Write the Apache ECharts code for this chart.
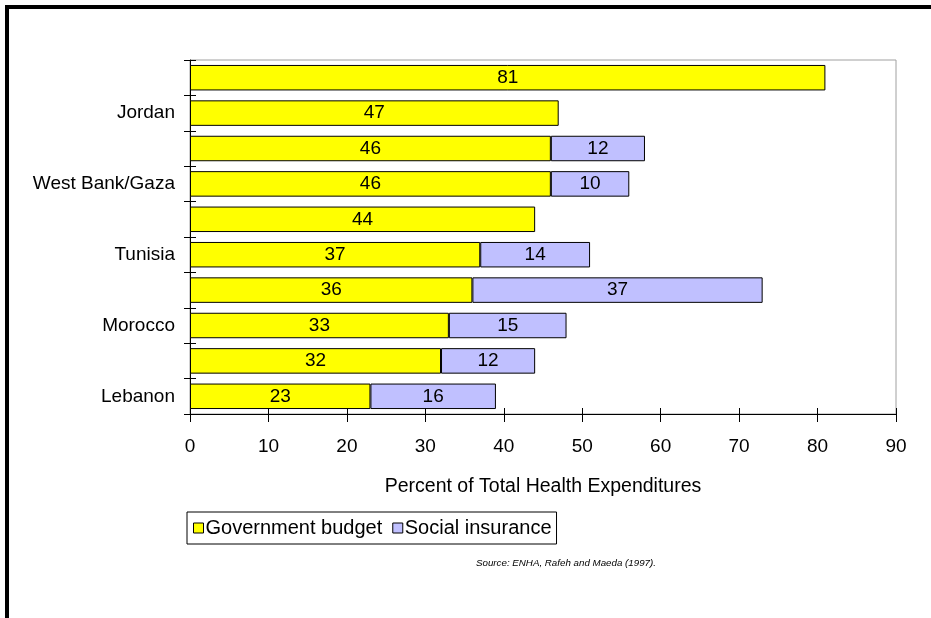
<!DOCTYPE html>
<html>
<head>
<meta charset="utf-8">
<script src="https://cdn.jsdelivr.net/npm/echarts@6/dist/echarts.min.js"></script>
<style>
  html, body { margin: 0; padding: 0; background: #fff; }
  #main { width: 931px; height: 618px; }
</style>
</head>
<body>
<div id="main"></div>
<script>
var myChart = echarts.init(document.getElementById('main'));

// bottom to top; only every other row carries a name on the axis
var countries = ['Lebanon', 'row2', 'Morocco', 'row4', 'Tunisia', 'row6', 'West Bank/Gaza', 'row8', 'Jordan', 'row10'];
var govBudget = [23, 32, 33, 36, 37, 44, 46, 46, 47, 81];
var socialIns = [16, 12, 15, 37, 14, null, 10, 12, null, null];
var xTicks = [0, 90, 10];  // min, max, interval

var font = 'Arial, "Liberation Sans", sans-serif';

var option = {
    backgroundColor: '#fff',
    animation: false,
    textStyle: { fontFamily: font },
    grid: {
        left: 190, right: 35, top: 60, bottom: 204,
        show: true,
        borderColor: '#a0a0a0',
        borderWidth: 1
    },
    xAxis: [{
        type: 'value',
        min: xTicks[0], max: xTicks[1], interval: xTicks[2],
        position: 'bottom',
        name: 'Percent of Total Health Expenditures',
        nameLocation: 'middle',
        nameGap: 63,
        nameTextStyle: { fontSize: 19.5, color: '#000', fontFamily: font },
        axisLine: { show: true, lineStyle: { color: '#000', width: 1 } },
        axisTick: { show: true, inside: false, length: 8, lineStyle: { color: '#000' } },
        axisLabel: { fontSize: 19, color: '#000', margin: 23, fontFamily: font },
        splitLine: { show: false }
    }, {
        // second axis only to make the ticks cross the line
        type: 'value',
        min: xTicks[0], max: xTicks[1], interval: xTicks[2],
        position: 'bottom',
        axisLine: { show: false },
        axisTick: { show: true, inside: true, length: 6, lineStyle: { color: '#000' } },
        axisLabel: { show: false },
        splitLine: { show: false }
    }],
    yAxis: [{
        type: 'category',
        data: countries,
        axisLine: { show: true, lineStyle: { color: '#000', width: 1 } },
        axisTick: { show: true, interval: 0, length: 6, lineStyle: { color: '#000' } },
        axisLabel: { interval: 1, fontSize: 19, color: '#000', margin: 15, fontFamily: font }
    }, {
        type: 'category',
        data: countries,
        position: 'left',
        axisLine: { show: false },
        axisTick: { show: true, interval: 0, inside: true, length: 6, lineStyle: { color: '#000' } },
        axisLabel: { show: false }
    }],
    legend: {
        left: 187, top: 512,
        orient: 'horizontal',
        itemWidth: 10, itemHeight: 10,
        itemGap: 10,
        padding: [6, 5, 6, 6],
        borderColor: '#000', borderWidth: 1,
        icon: 'rect',
        itemStyle: { borderColor: '#000', borderWidth: 1 },
        textStyle: { fontSize: 20, color: '#000', padding: [0, 0, 0, -3], fontFamily: font },
        data: ['Government budget', 'Social insurance']
    },
    series: [{
        name: 'Government budget',
        type: 'bar',
        stack: 'total',
        barCategoryGap: '28%',
        itemStyle: { color: '#ffff00', borderColor: '#000', borderWidth: 1 },
        label: { show: true, position: 'inside', color: '#000', fontSize: 19, fontFamily: font },
        data: govBudget
    }, {
        name: 'Social insurance',
        type: 'bar',
        stack: 'total',
        barCategoryGap: '28%',
        itemStyle: { color: '#c0c0ff', borderColor: '#000', borderWidth: 1 },
        label: { show: true, position: 'inside', color: '#000', fontSize: 19, fontFamily: font },
        data: socialIns
    }],
    graphic: [
        // outer frame, only top and left edges are visible
        { type: 'rect', shape: { x: 5, y: 5, width: 926, height: 4 }, style: { fill: '#000' } },
        { type: 'rect', shape: { x: 5, y: 5, width: 4, height: 613 }, style: { fill: '#000' } },
        {
            type: 'text', left: 476, top: 558,
            style: {
                text: 'Source: ENHA, Rafeh and Maeda (1997).',
                font: 'italic 9.75px ' + font,
                fill: '#000'
            }
        }
    ]
};

myChart.setOption(option);
</script>
</body>
</html>
